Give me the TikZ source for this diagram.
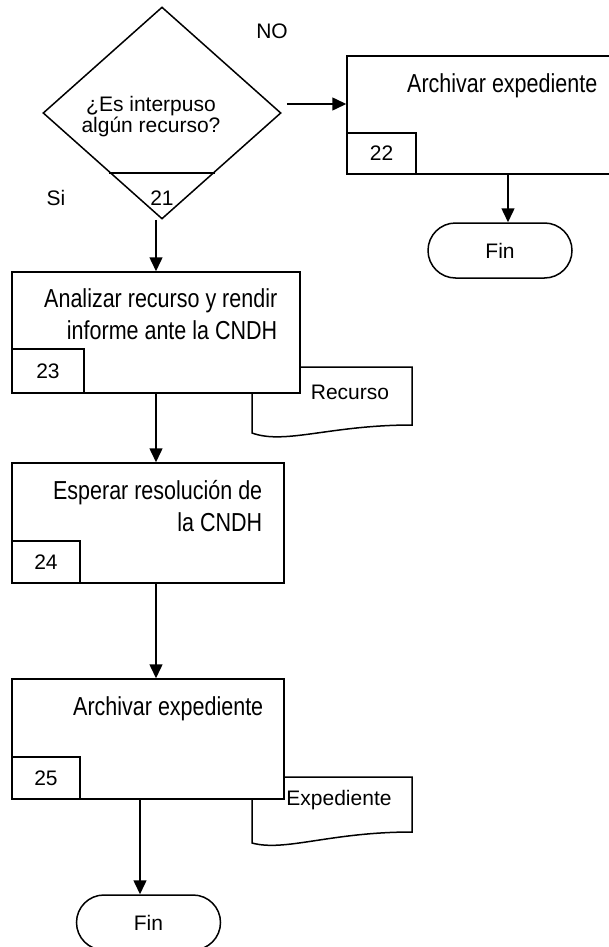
\documentclass[tikz,border=0pt]{standalone}
\usepackage{fontspec}
\setmainfont{Liberation Sans}
\newfontfamily\narrowfont[FakeStretch=0.827]{Liberation Sans}
\usetikzlibrary{shapes.geometric,arrows.meta,calc}

\begin{document}
\begin{tikzpicture}[x=1pt,y=-1pt,line width=1.5pt]
\tikzstyle{proc}=[rectangle,draw,fill=white,minimum width=272,minimum height=120,inner sep=0]
\tikzstyle{num}=[rectangle,draw,anchor=south west,minimum width=68,minimum height=42,inner sep=0,font=\fontsize{21}{21}\selectfont]
\tikzstyle{desc}=[align=right,inner sep=0,anchor=base east,font=\narrowfont\fontsize{26}{32}\selectfont]
\tikzstyle{txt}=[inner sep=0,font=\fontsize{21}{21}\selectfont]
\tikzstyle{fin}=[rectangle,draw,fill=white,rounded corners=27.5,minimum width=144,minimum height=55,inner sep=0,font=\fontsize{21}{21}\selectfont]
\tikzstyle{flow}=[-{Triangle[length=14pt,width=13pt]}]
\useasboundingbox (0,0) rectangle (609,947);

% decision
\node [diamond,draw,minimum width=238,minimum height=212,inner sep=0] (q) at (162,113) {};
\node [txt,align=center] (qt) at (151,117) {¿Es interpuso\\algún recurso?};
\draw ($(q.south)!0.44!(q.west)$) -- ($(q.south)!0.44!(q.east)$);
\node [txt] (n21) at (162,198) {21};
\node [txt] (no) at (272,31) {NO};
\node [txt] (si) at (56,198) {Si};

% documents
\draw [fill=white] (252,367) -- (412,367) -- (412,425) .. controls (330,425) and (285,445) .. (252,433) -- cycle;
\draw [fill=white] (252,777) -- (412,777) -- (412,832) .. controls (330,832) and (285,852) .. (252,843) -- cycle;

% activities
\node [proc,minimum height=118] (b22) at (483,115) {};
\node [num,minimum width=69,minimum height=41] (n22) at (b22.south west) {22};
\node [desc] (t22) at (598,93) {Archivar expediente};

\node [proc,minimum width=288,minimum height=121] (b23) at (156,332.5) {};
\node [num,minimum width=72,minimum height=44] (n23) at (b23.south west) {23};
\node [desc] (t23) at (278,339) {Analizar recurso y rendir\\informe ante la CNDH};

\node [proc] (b24) at (148,523) {};
\node [num] (n24) at (b24.south west) {24};
\node [desc] (t24) at (263,531) {Esperar resolución de\\la CNDH};

\node [proc] (b25) at (148,739) {};
\node [num] (n25) at (b25.south west) {25};
\node [desc] (t25) at (264,715) {Archivar expediente};

\node [txt] (rec) at (350,392) {Recurso};
\node [txt] (exp) at (339,800) {Expediente};

% ends
\node [fin] (fin1) at (500,250.5) {Fin};
\node [fin] (fin2) at (148.5,922.5) {Fin};

% connectors
\coordinate (qe) at ([shift={(5,-9)}]q.east);
\draw [flow] (qe) -- (qe -| b22.west);
\draw [flow] (b23.north |- q.south) -- (b23.north);
\draw [flow] (b23.south) -- (b23.south |- b24.north);
\draw [flow] (b23.south |- b24.south) -- (b23.south |- b25.north);
\coordinate (f1) at ([xshift=8]fin1.north);
\draw [flow] (f1 |- b22.south) -- (f1);
\coordinate (f2) at ([xshift=-8.5]fin2.north);
\draw [flow] (f2 |- b25.south) -- (f2);
\end{tikzpicture}
\end{document}
